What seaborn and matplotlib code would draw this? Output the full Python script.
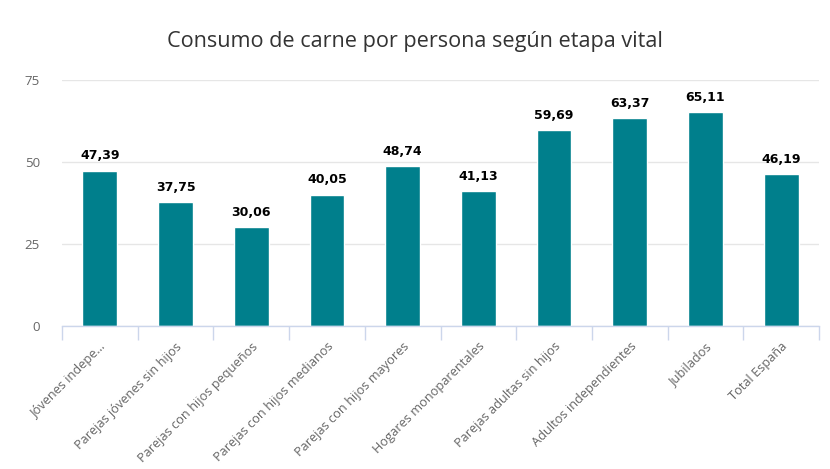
import matplotlib
matplotlib.use("Agg")
import matplotlib.pyplot as plt
import seaborn as sns
import pandas as pd
import numpy as np

categories = ["Jóvenes indepe...", "Parejas jóvenes sin hijos", "Parejas con hijos pequeños",
              "Parejas con hijos medianos", "Parejas con hijos mayores", "Hogares monoparentales",
              "Parejas adultas sin hijos", "Adultos independientes", "Jubilados", "Total España"]
values = [47.39, 37.75, 30.06, 40.05, 48.74, 41.13, 59.69, 63.37, 65.11, 46.19]
yticks = [0, 25, 50, 75]
title = "Consumo de carne por persona según etapa vital"

sns.set_theme(style="white")
plt.rcParams['font.family'] = ['Open Sans', 'DejaVu Sans']

df = pd.DataFrame({"cat": categories, "val": values})

fig = plt.figure(figsize=(8.3, 4.69), dpi=100)
ax = fig.add_axes([62/830, 1-326/469, (819-62)/830, (326-80)/469])

sns.barplot(data=df, x="cat", y="val", color="#007f8c", saturation=1, width=0.46, ax=ax)

ax.set_ylim(0, 75)
ax.set_xlim(-0.5, len(categories)-0.5)
ax.set_yticks(yticks)
ax.set_yticklabels([str(t) for t in yticks], color="#666666", fontsize=9.5)
ax.yaxis.grid(True, color="#e6e6e6", linewidth=1)
ax.set_axisbelow(True)
ax.set_xlabel("")
ax.set_ylabel("")
for s in ["top", "right", "left"]:
    ax.spines[s].set_visible(False)
ax.spines["bottom"].set_color("#ccd6eb")
ax.spines["bottom"].set_linewidth(1)
ax.tick_params(axis="y", length=0, pad=16)

ax.set_xticks(range(len(categories)))
ax.set_xticklabels(categories, rotation=45, ha="right", rotation_mode="anchor",
                   color="#666666", fontsize=9.2)
ax.tick_params(axis="x", which="major", length=0, pad=10)
ax.set_xticks(np.arange(-0.5, len(categories)), minor=True)
ax.tick_params(axis="x", which="minor", length=10, color="#ccd6eb", width=1, bottom=True)

labels = [f"{v:.2f}".replace(".", ",") for v in values]
texts = ax.bar_label(ax.containers[0], labels=labels, padding=6, fontsize=9,
                     fontweight="bold", color="#000000")
for t in texts:
    t.set_family(["DejaVu Sans"])

fig.text(0.5, 1-42/469, title, ha="center", va="center", fontsize=15.6, color="#333333")

fig.savefig("out.png", dpi=100)
